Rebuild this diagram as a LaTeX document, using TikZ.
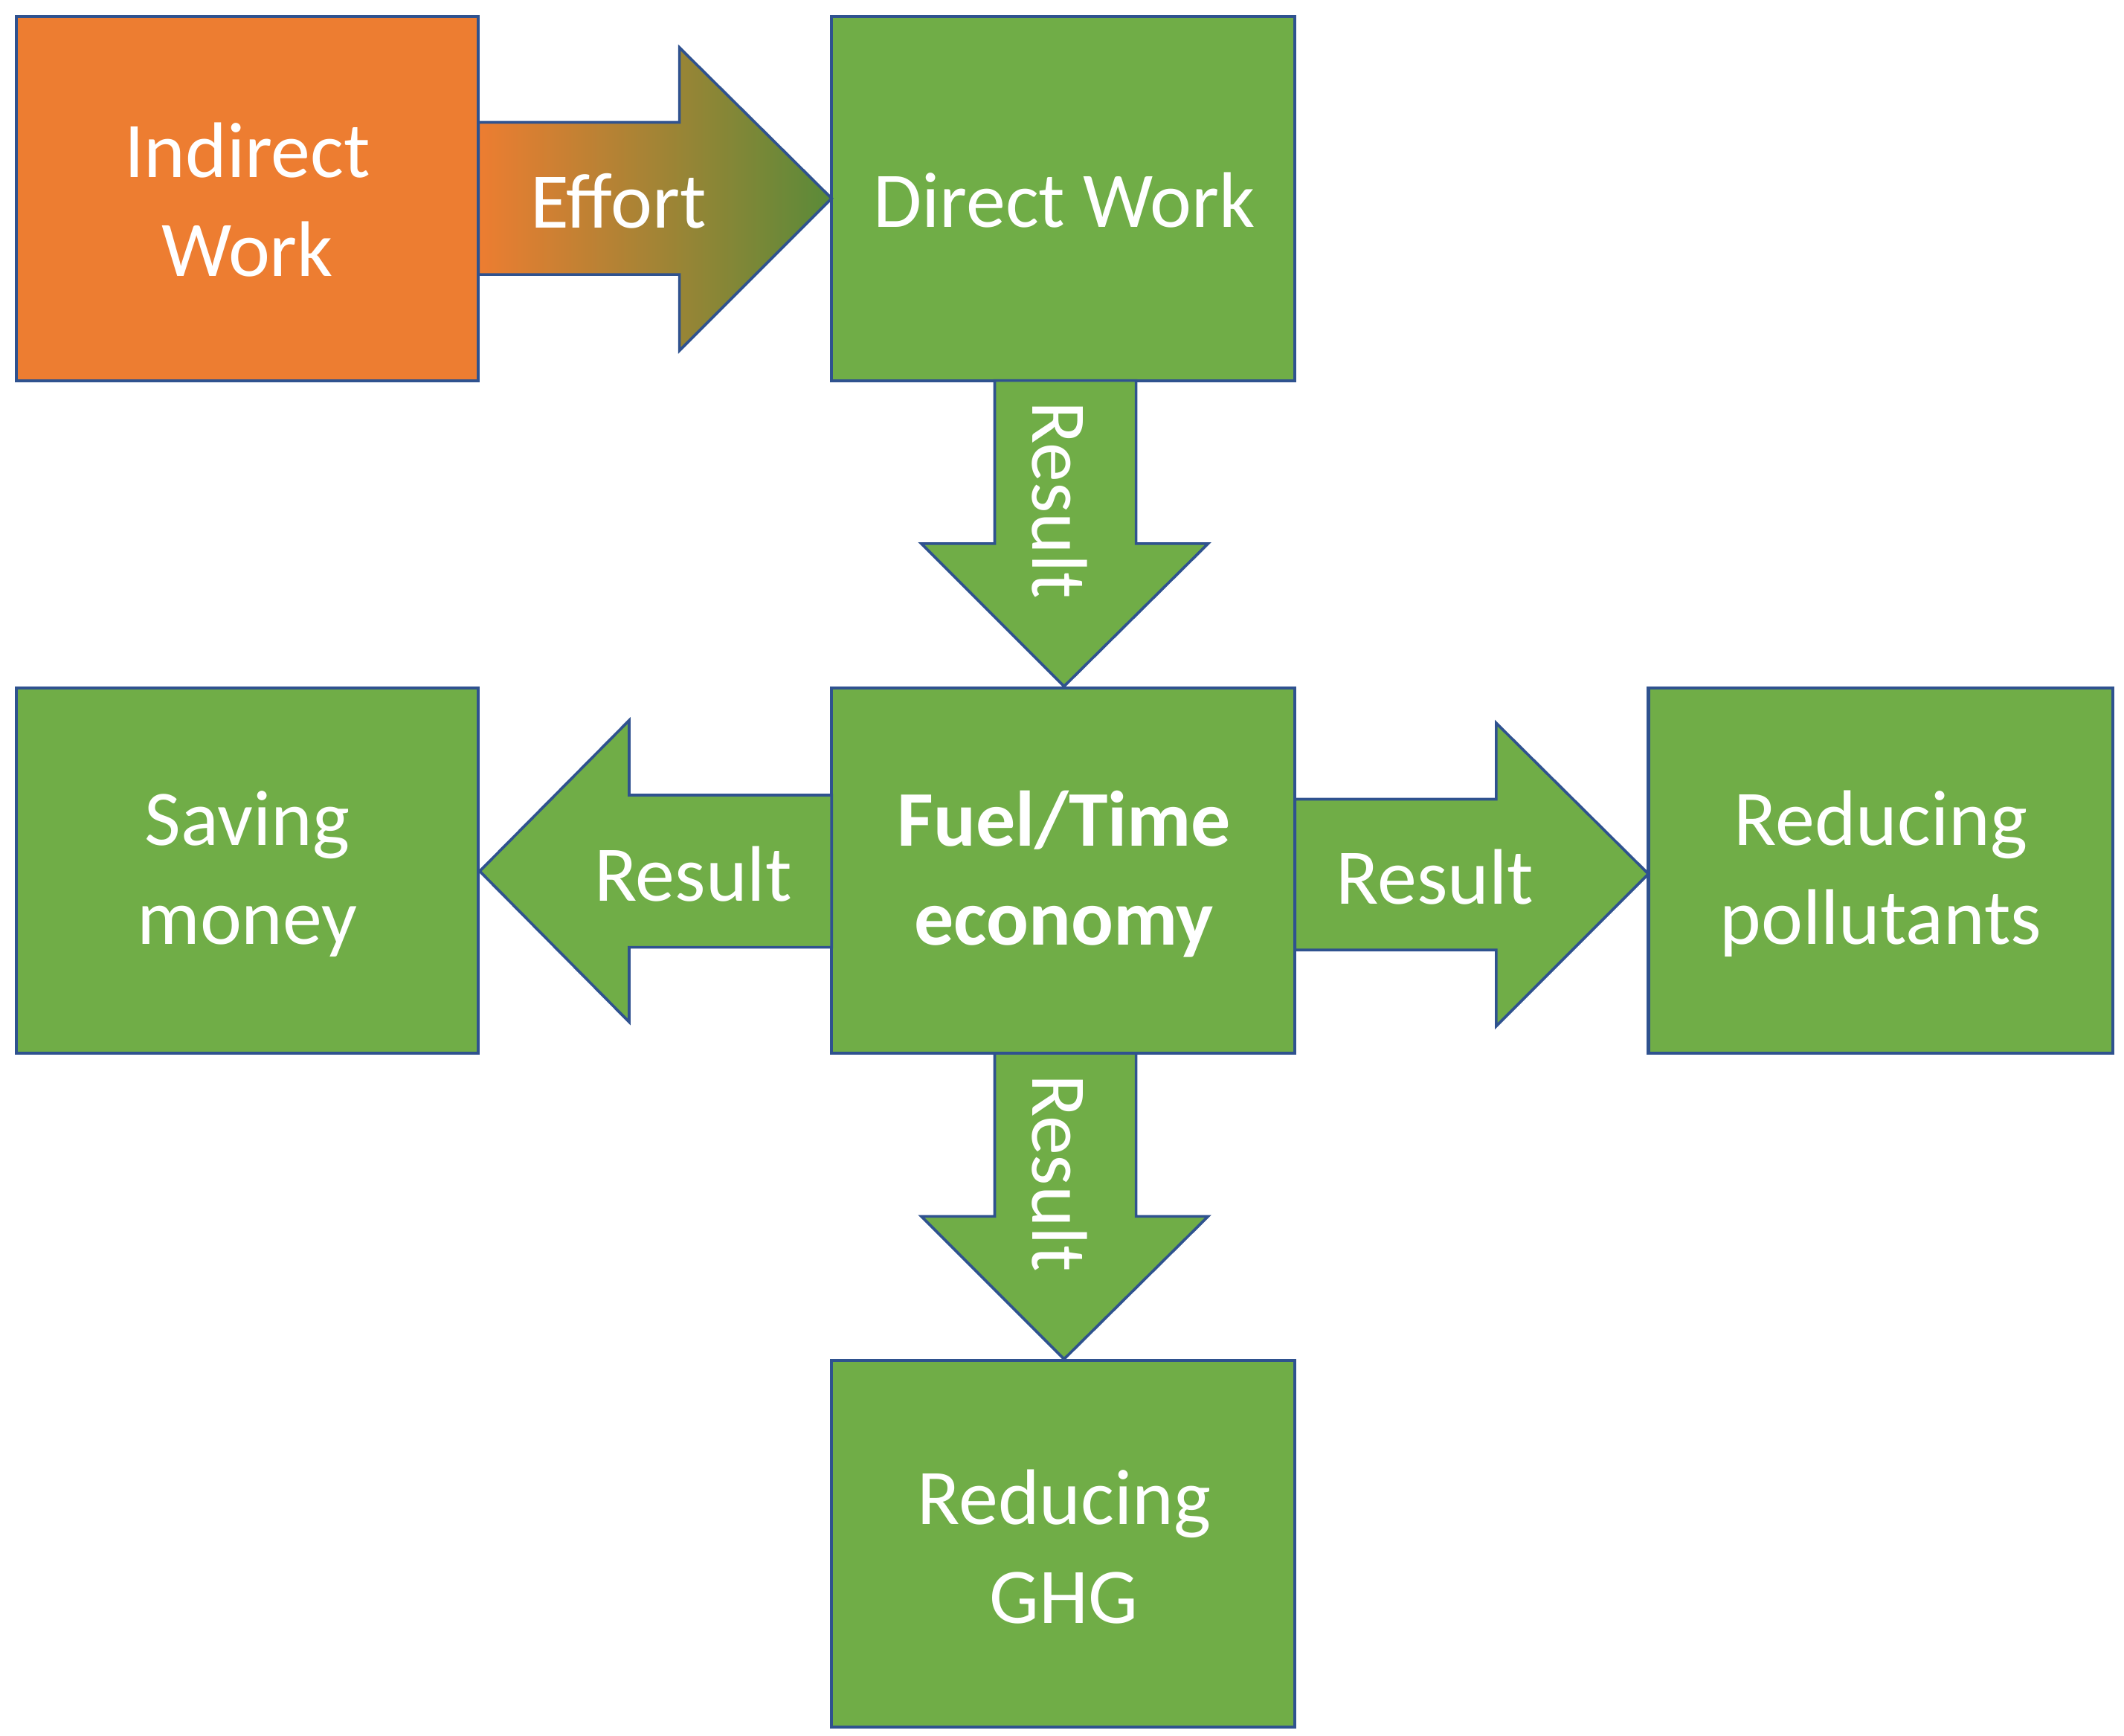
\documentclass[tikz,border=0pt]{standalone}
\usepackage{fontspec}
\setmainfont{Carlito}
\begin{document}
\begin{tikzpicture}[x=1pt,y=-1pt,
  bx/.style={draw=bord,line width=2.2pt,fill=grn},
  ar/.style={draw=bord,line width=2pt,fill=grn,line join=miter},
  lbl/.style={text=white,font=\fontsize{58}{73}\selectfont,align=center}]
\definecolor{grn}{HTML}{70AD47}
\definecolor{org}{HTML}{ED7D31}
\definecolor{bord}{HTML}{2F528F}
\useasboundingbox (0,0) rectangle (1563,1277);
% boxes
\draw[bx,fill=org] (12,12) rectangle (352,280);
\draw[bx] (612,12) rectangle (953,280);
\draw[bx] (612,506) rectangle (953,775);
\draw[bx] (12,506) rectangle (352,775);
\draw[bx] (1213,506) rectangle (1555,775);
\draw[bx] (612,1001) rectangle (953,1271);
% arrows
\draw[ar,left color=org,right color=grn!80!black] (352,90) -- (500,90) -- (500,35) -- (612,146) -- (500,258) -- (500,202) -- (352,202) -- cycle;
\draw[ar] (732,280) -- (836,280) -- (836,400) -- (889,400) -- (783,505) -- (678,400) -- (732,400) -- cycle;
\draw[ar] (732,775) -- (836,775) -- (836,895) -- (889,895) -- (783,1000) -- (678,895) -- (732,895) -- cycle;
\draw[ar] (612,585) -- (463,585) -- (463,530) -- (353,641) -- (463,752) -- (463,697) -- (612,697) -- cycle;
\draw[ar] (953,588) -- (1101,588) -- (1101,532) -- (1213,643) -- (1101,755) -- (1101,699) -- (953,699) -- cycle;
% labels
\node[lbl] (iw) at (182,147) {Indirect\\Work};
\node[lbl] (dw) at (783,147) {Direct Work};
\node[lbl] (ef) at (455,148) {Effort};
\node[lbl,font=\bfseries\fontsize{58}{73}\selectfont] (fe) at (783,643) {Fuel/Time\\economy};
\node[lbl] (sm) at (182,643) {Saving\\money};
\node[lbl] (rp) at (1384,643) {Reducing\\pollutants};
\node[lbl] (rg) at (783,1138) {Reducing\\GHG};
\node[lbl] (r1) at (510,643) {Result};
\node[lbl] (r2) at (1056,645) {Result};
\node[lbl,rotate=-90] (r3) at (780,368) {Result};
\node[lbl,rotate=-90] (r4) at (780,863) {Result};
\end{tikzpicture}
\end{document}
